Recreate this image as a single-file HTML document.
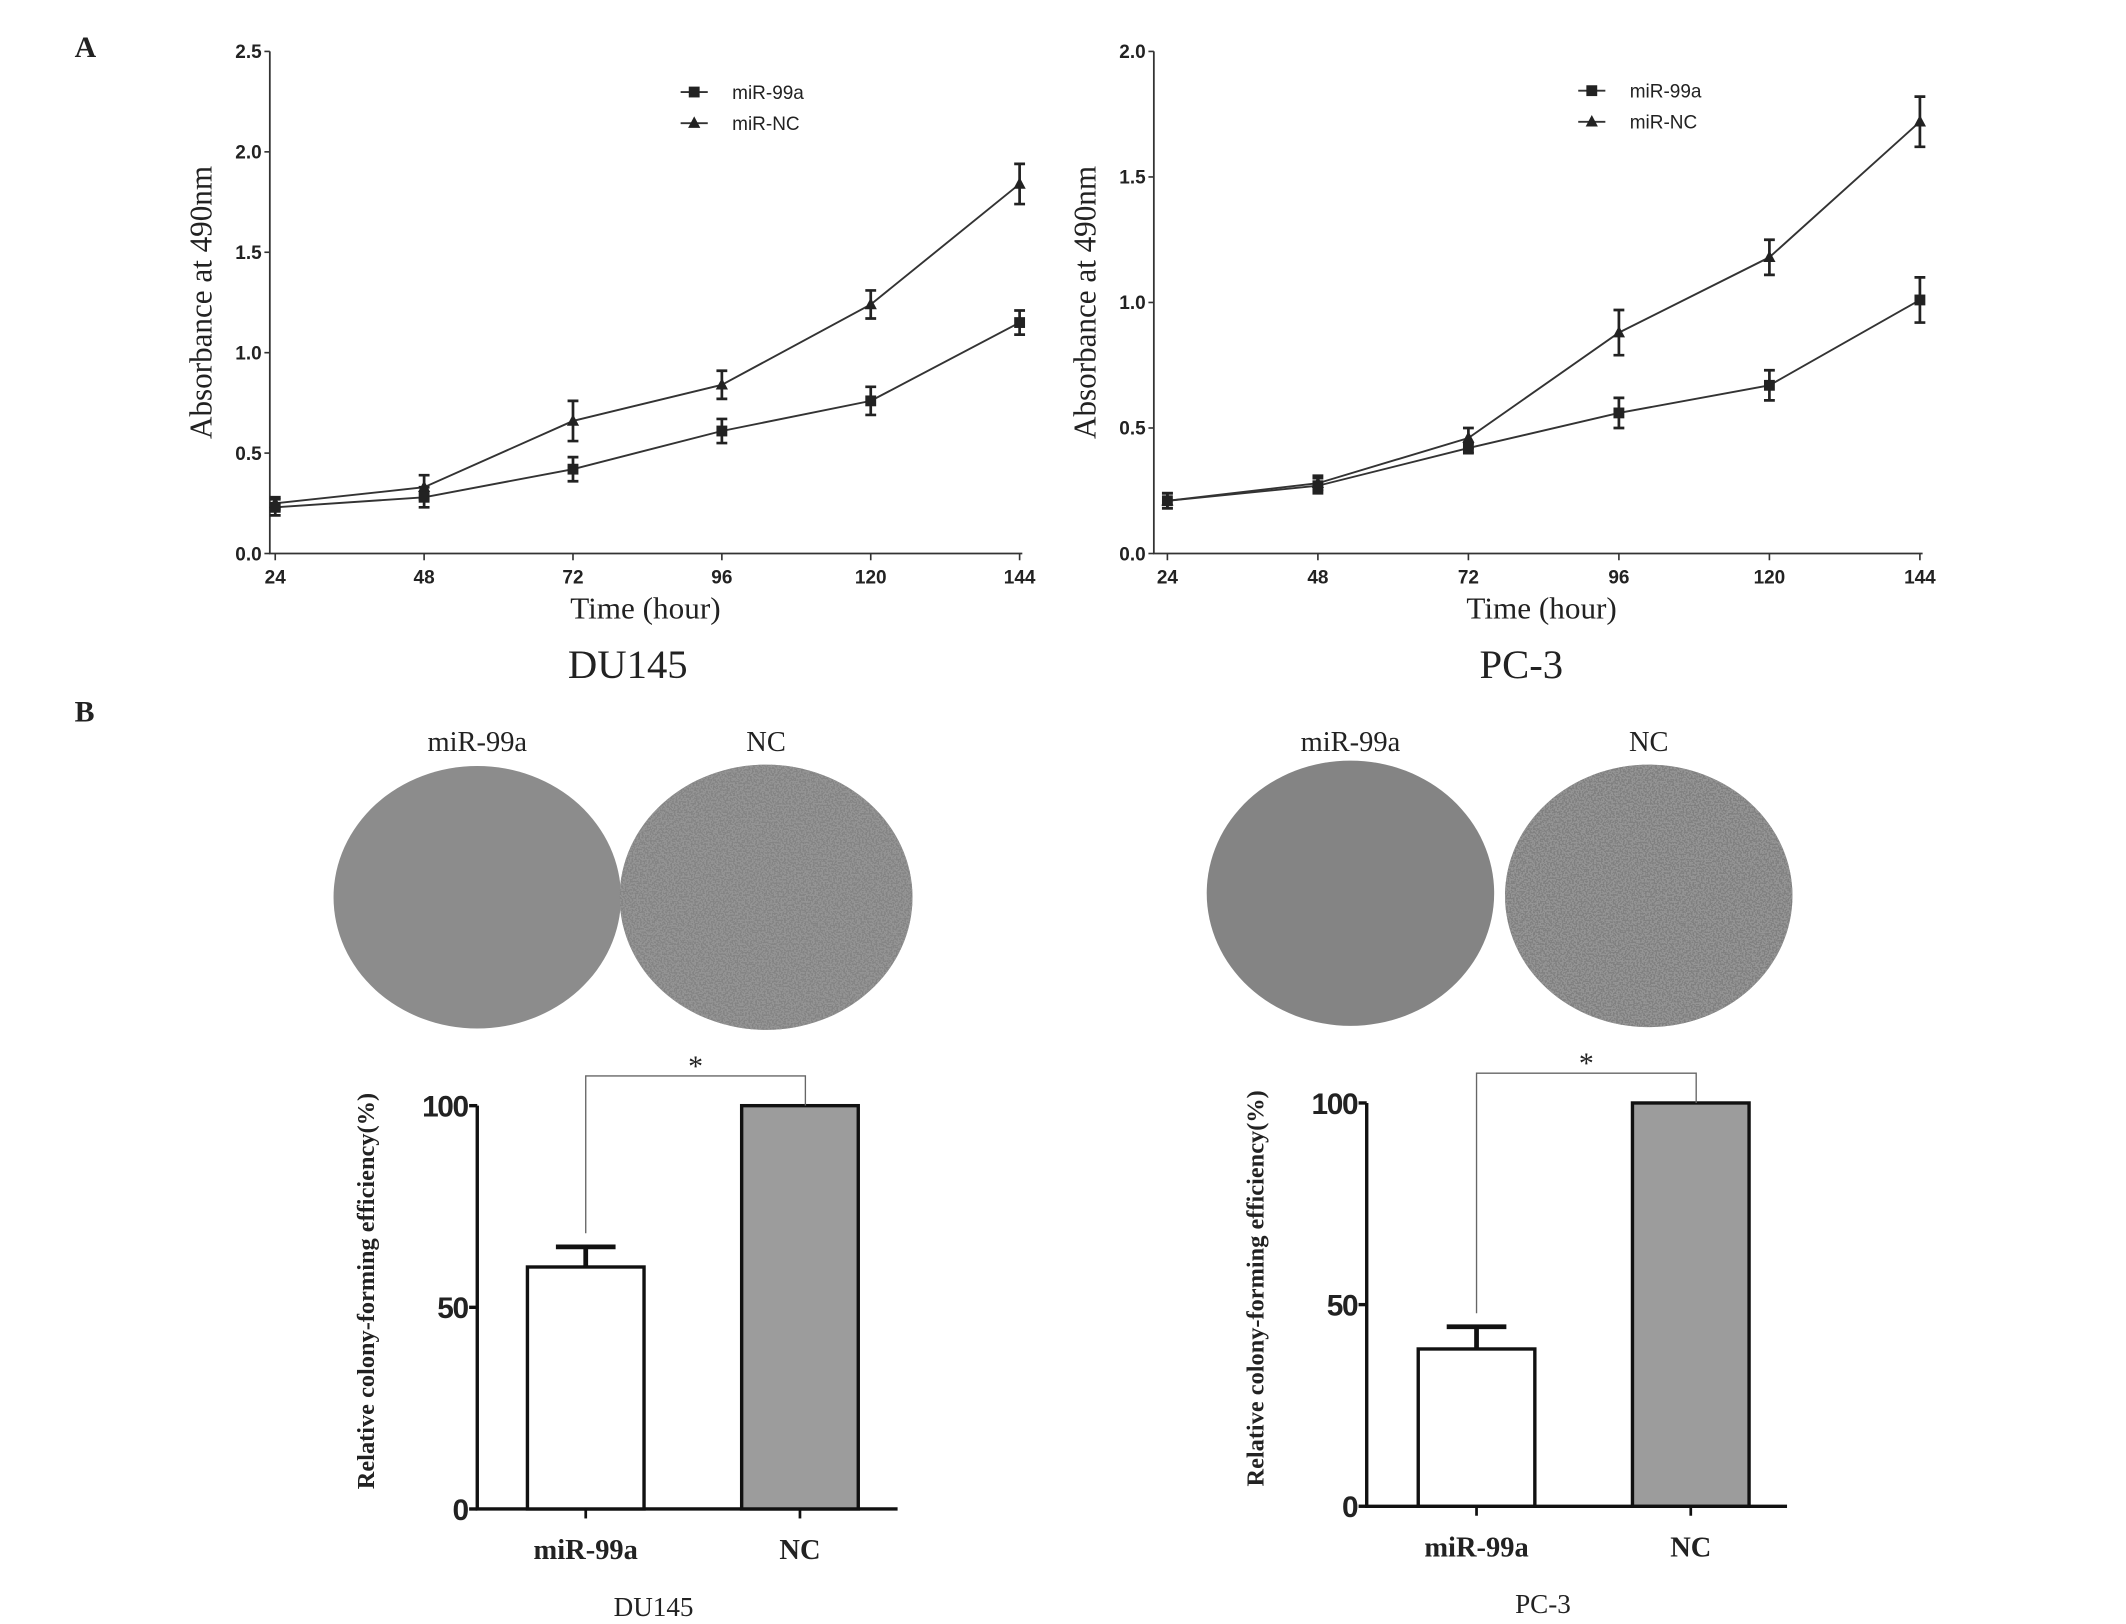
<!DOCTYPE html>
<html><head><meta charset="utf-8"><style>
html,body{margin:0;padding:0;background:#fff;}
svg{display:block;}
.tk{font-family:"Liberation Sans",sans-serif;font-weight:bold;fill:#222;}
.serif{font-family:"Liberation Serif",serif;fill:#222;}
.leg{font-family:"Liberation Sans",sans-serif;font-size:14px;fill:#222;}
</style></head><body>
<svg id="fig" width="2126" height="1624" viewBox="0 0 1568 1200" preserveAspectRatio="none" xmlns="http://www.w3.org/2000/svg">
<defs>
<filter id="speck" x="0" y="0" width="1" height="1">
<feTurbulence type="fractalNoise" baseFrequency="0.8" numOctaves="1" seed="3"/>
<feColorMatrix type="matrix" values="0 0 0 0 0.3  0 0 0 0 0.3  0 0 0 0 0.3  0 0 0 -14 7.6"/>
<feComposite in2="SourceGraphic" operator="in"/>
</filter>
</defs>
<text x="55" y="42" class="serif" font-size="22" font-weight="bold">A</text>
<text x="55" y="533" class="serif" font-size="22" font-weight="bold">B</text>
<g id="lines"></g>
<g id="bars"></g>
<g id="plates"></g>
</svg>
<script>
const NS="http://www.w3.org/2000/svg";
// ---- Panel A data ----
const hours=[24,48,72,96,120,144];
const du145Mir99a=[0.23,0.28,0.42,0.61,0.76,1.15];
const du145Mir99aErr=[0.04,0.05,0.06,0.06,0.07,0.06];
const du145NC=[0.25,0.33,0.66,0.84,1.24,1.84];
const du145NCErr=[0.03,0.06,0.10,0.07,0.07,0.10];
const pc3Mir99a=[0.21,0.27,0.42,0.56,0.67,1.01];
const pc3Mir99aErr=[0.03,0.03,0.02,0.06,0.06,0.09];
const pc3NC=[0.21,0.28,0.46,0.88,1.18,1.72];
const pc3NCErr=[0.03,0.03,0.04,0.09,0.07,0.10];
const du145YTicks=[0,0.5,1.0,1.5,2.0,2.5];
const pc3YTicks=[0,0.5,1.0,1.5,2.0];
// ---- Panel B data ----
const barCategories=["miR-99a","NC"];
const du145Colony=[60,100];
const du145ColonyErr=[5,0];
const pc3Colony=[39,100];
const pc3ColonyErr=[5.5,0];
const barYTicks=[0,50,100];

function el(tag,attrs,parent,text){const e=document.createElementNS(NS,tag);for(const k in attrs)e.setAttribute(k,attrs[k]);if(text!==undefined)e.textContent=text;parent.appendChild(e);return e;}

function linePanel(g,cfg){
  const sx=h=>cfg.x0+(h-24)/(144-24)*(cfg.x1-cfg.x0);
  const sy=v=>cfg.yb-v/cfg.ymax*(cfg.yb-cfg.yt);
  const ax=el('path',{d:`M${cfg.ax} ${cfg.yt} V${cfg.yb} H${cfg.x1+2}`,stroke:'#333','stroke-width':1.3,fill:'none'},g);
  
  
  cfg.yTicks.forEach(t=>{
    el('line',{x1:cfg.ax-4,x2:cfg.ax,y1:sy(t),y2:sy(t),stroke:'#333','stroke-width':1.2},g);
    const tx=el('text',{x:cfg.ax-6,y:sy(t)+5,'text-anchor':'end',class:'tk',style:'font-size:14px'},g,t.toFixed(1));
    
    
  });
  hours.forEach(h=>{
    el('line',{x1:sx(h),x2:sx(h),y1:cfg.yb,y2:cfg.yb+5,stroke:'#333','stroke-width':1.2},g);
    const tx=el('text',{x:sx(h),y:cfg.yb+22,'text-anchor':'middle',class:'tk',style:'font-size:14px'},g,String(h));
    
    
  });
  const series=[[cfg.nc,cfg.ncErr,'tri','miR-NC'],[cfg.mir,cfg.mirErr,'sq','miR-99a']];
  series.forEach(([vals,errs,mk,nm])=>{
    const p=el('polyline',{points:vals.map((v,i)=>sx(hours[i])+','+sy(v)).join(' '),fill:'none',stroke:'#333','stroke-width':1.4},g);
    
    
    vals.forEach((v,i)=>{
      const x=sx(hours[i]),e1=sy(v+errs[i]),e2=sy(v-errs[i]);
      el('path',{d:`M${x} ${e1}V${e2}M${x-4} ${e1}H${x+4}M${x-4} ${e2}H${x+4}`,stroke:'#222','stroke-width':2,fill:'none'},g);
      let m;
      if(mk==='sq')m=el('rect',{x:x-4,y:sy(v)-4,width:8,height:8,fill:'#222'},g);
      else m=el('polygon',{points:`${x},${sy(v)-5} ${x-4.5},${sy(v)+3.5} ${x+4.5},${sy(v)+3.5}`,fill:'#222'},g);
      
      
    });
  });
  const lg=[['sq','miR-99a',cfg.ly],['tri','miR-NC',cfg.ly+23]];
  lg.forEach(([mk,nm,y])=>{
    el('line',{x1:cfg.lx,x2:cfg.lx+20,y1:y,y2:y,stroke:'#333','stroke-width':1.4},g);
    if(mk==='sq')el('rect',{x:cfg.lx+6,y:y-4,width:8,height:8,fill:'#222'},g);
    else el('polygon',{points:`${cfg.lx+10},${y-5} ${cfg.lx+5.5},${y+3.5} ${cfg.lx+14.5},${y+3.5}`,fill:'#222'},g);
    const t=el('text',{x:cfg.lx+38,y:y+5,class:'leg'},g,nm);
    
    
  });
  const xt=el('text',{x:cfg.xlx,y:cfg.yb+48,'text-anchor':'middle',class:'serif','font-size':23},g,'Time (hour)');
  
  
  const yt=el('text',{x:0,y:0,'text-anchor':'middle',class:'serif','font-size':23,transform:`translate(${cfg.ax-43},${(cfg.yt+cfg.yb)/2}) rotate(-90)`},g,'Absorbance at 490nm');
  
  
  const tt=el('text',{x:cfg.tx,y:cfg.yb+92,'text-anchor':'middle',class:'serif','font-size':30},g,cfg.title);
  
  
}
const lines=document.getElementById('lines');
linePanel(lines,{name:'du145-growth',ax:199,x0:203,x1:752,yt:38,yb:409,ymax:2.5,yTicks:du145YTicks,mir:du145Mir99a,mirErr:du145Mir99aErr,nc:du145NC,ncErr:du145NCErr,lx:502,ly:68,xlx:476,tx:463,title:'DU145'});
linePanel(lines,{name:'pc3-growth',ax:851,x0:861,x1:1416,yt:38,yb:409,ymax:2.0,yTicks:pc3YTicks,mir:pc3Mir99a,mirErr:pc3Mir99aErr,nc:pc3NC,ncErr:pc3NCErr,lx:1164,ly:67,xlx:1137,tx:1122,title:'PC-3'});

function barPanel(g,cfg){
  const sy=v=>cfg.yb-v/100*(cfg.yb-cfg.y100);
  const ax=el('path',{d:`M${cfg.ax} ${cfg.y100} V${cfg.yb} H${cfg.xend}`,stroke:'#111','stroke-width':2.5,fill:'none'},g);
  
  
  barYTicks.forEach(t=>{
    el('line',{x1:cfg.ax-6,x2:cfg.ax,y1:sy(t),y2:sy(t),stroke:'#111','stroke-width':2.5},g);
    const tx=el('text',{x:cfg.ax-7,y:sy(t)+8,'text-anchor':'end',class:'tk',style:'font-size:22px;letter-spacing:-1px'},g,String(t));
    
    
  });
  const fills=['#fff','#9c9c9c'];
  cfg.vals.forEach((v,i)=>{
    const cx=cfg.cx[i];
    const r=el('rect',{x:cx-43,y:sy(v),width:86,height:sy(0)-sy(v),fill:fills[i],stroke:'#111','stroke-width':2.5},g);
    
    
    if(cfg.errs[i]>0){
      el('path',{d:`M${cx} ${sy(v)}V${sy(v+cfg.errs[i])}M${cx-22} ${sy(v+cfg.errs[i])}H${cx+22}`,stroke:'#111','stroke-width':3.5,fill:'none'},g);
    }
    el('line',{x1:cx,x2:cx,y1:cfg.yb,y2:cfg.yb+7,stroke:'#111','stroke-width':2},g);
    const tl=el('text',{x:cx,y:cfg.yb+37,'text-anchor':'middle',class:'serif','font-size':21,'font-weight':'bold'},g,barCategories[i]);
    
    
  });
  const by=cfg.y100-22;
  const br=el('path',{d:`M${cfg.cx[0]} ${sy(cfg.vals[0]+cfg.errs[0])-10}V${by}H${cfg.cx[1]+4}V${cfg.y100}`,stroke:'#666','stroke-width':1,fill:'none'},g);
  
  
  el('text',{x:(cfg.cx[0]+cfg.cx[1])/2+2,y:by-0,'text-anchor':'middle',class:'serif','font-size':22},g,'*');
  const yt=el('text',{x:0,y:0,'text-anchor':'middle',class:'serif','font-size':18,'font-weight':'bold',transform:`translate(${cfg.ax-76},${(cfg.y100+cfg.yb)/2-12}) rotate(-90)`},g,'Relative colony-forming efficiency(%)');
  
  
  const tt=el('text',{x:cfg.tx,y:cfg.yb+79,'text-anchor':'middle',class:'serif','font-size':20},g,cfg.title);
  
  
}
const bars=document.getElementById('bars');
barPanel(bars,{name:'du145-colony',ax:352,y100:817,yb:1115,xend:662,cx:[432,590],vals:du145Colony,errs:du145ColonyErr,tx:482,title:'DU145'});
barPanel(bars,{name:'pc3-colony',ax:1008,y100:815,yb:1113,xend:1318,cx:[1089,1247],vals:pc3Colony,errs:pc3ColonyErr,tx:1138,title:'PC-3'});

const plates=document.getElementById('plates');
const plateDefs=[[352,663,106,97,'#8c8c8c','miR-99a','du145'],[565,663,108,98,'#848484','NC','du145'],[996,660,106,98,'#848484','miR-99a','pc3'],[1216,662,106,97,'#808080','NC','pc3']];
plateDefs.forEach(([cx,cy,rx,ry,c,lab,cell])=>{
  const e=el('ellipse',{cx,cy,rx,ry,fill:c},plates);
  
  
  if(lab==='NC')el('ellipse',{cx,cy,rx,ry,fill:'#555',filter:'url(#speck)'},plates);
  const t=el('text',{x:cx,y:555,'text-anchor':'middle',class:'serif','font-size':21},plates,lab);
  
  
});
</script>
</body></html>
